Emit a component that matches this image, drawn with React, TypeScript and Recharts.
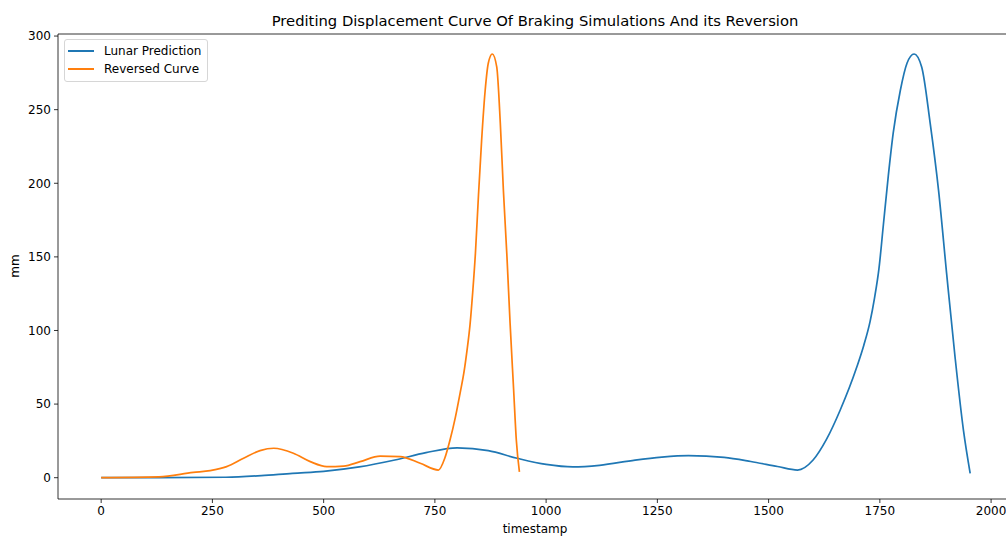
import React from 'react';
import { LineChart, Line, XAxis, YAxis, Legend, ReferenceLine } from 'recharts';

const lunarT = [0, 130, 280, 360, 430, 500, 580, 660, 730, 800, 870, 935, 1000, 1060, 1120, 1200, 1260, 1320, 1400, 1460, 1520, 1565, 1600, 1630, 1661, 1698, 1714, 1728, 1738, 1748, 1758, 1769, 1780, 1796, 1811, 1827, 1844, 1863, 1882, 1900, 1919, 1938, 1953];
const lunarV = [0, 0, 0.3, 1.4, 3, 4.3, 7.3, 12, 17, 20.3, 18.4, 13.2, 9, 7.3, 8.4, 12, 14, 15, 13.8, 11, 7.6, 5.2, 12, 26, 46, 75, 90, 106, 122, 142, 172, 205, 234, 263, 281.5, 287.8, 279, 241, 195, 139, 82, 32, 3];

const reversedT = [0, 130, 207, 245, 282, 320, 357, 388, 432, 470, 507, 545, 582, 627, 672, 717, 758, 772, 784, 796, 807, 815, 822, 829, 835, 841, 848, 855, 863, 870, 879, 889, 897, 904, 912, 919, 927, 933, 940];
const reversedV = [0, 0.5, 3.6, 4.8, 7.5, 13.2, 18.4, 20, 16.6, 10.9, 7.5, 7.9, 10.9, 14.7, 14.3, 9.8, 5.2, 13, 25.6, 41, 58, 71, 86, 104, 126, 152, 192, 229, 263, 281.5, 287.8, 279, 241, 195, 150, 105, 59.6, 25.6, 4];

const xTicks = [0, 250, 500, 750, 1000, 1250, 1500, 1750, 2000];
const yTicks = [0, 50, 100, 150, 200, 250, 300];

const seriesNames = ['Lunar Prediction', 'Reversed Curve'];
const seriesColors = ['#1f77b4', '#ff7f0e'];

const lunarData = lunarT.map((t, i) => ({ t, v: lunarV[i] }));
const reversedData = reversedT.map((t, i) => ({ t, v: reversedV[i] }));

const FONT = '"DejaVu Sans", sans-serif';
const xDomain = [-97, 2047];
const yDomain = [-14.47, 301.4];

const LegendBox = () => (
  <div
    style={{
      background: '#fff',
      border: '1px solid #d6d6d6',
      borderRadius: 3,
      padding: '2px 6px 2px 3px',
      fontFamily: FONT,
      fontSize: 12,
      color: '#000',
      whiteSpace: 'nowrap',
    }}
  >
    {seriesNames.map((name, i) => (
      <div key={name} style={{ display: 'flex', alignItems: 'center', height: 18.3 }}>
        <div style={{ width: 26, height: 2, background: seriesColors[i], marginRight: 10 }} />
        <span>{name}</span>
      </div>
    ))}
  </div>
);

export default function App() {
  return (
    <div
      style={{
        position: 'absolute',
        left: 0,
        top: 0,
        width: 1006,
        height: 538,
        overflow: 'hidden',
        background: '#fff',
        fontFamily: FONT,
      }}
    >
      <div style={{ position: 'absolute', left: 0, width: 1070, top: 12, textAlign: 'center', fontSize: 14.75, color: '#000' }}>
        Prediting Displacement Curve Of Braking Simulations And its Reversion
      </div>
      <div
        style={{
          position: 'absolute',
          left: 15,
          top: 266,
          fontSize: 12,
          color: '#000',
          transform: 'translate(-50%, -50%) rotate(-90deg)',
        }}
      >
        mm
      </div>
      <div style={{ position: 'absolute', left: 0, width: 1070, top: 522, textAlign: 'center', fontSize: 12, color: '#000' }}>
        timestamp
      </div>

      <LineChart width={1020} height={538} margin={{ top: 34, right: 8, bottom: 0, left: 0 }}>
        <XAxis
          dataKey="t"
          type="number"
          domain={xDomain}
          ticks={xTicks}
          allowDataOverflow
          height={39}
          tickSize={4}
          tickMargin={3}
          stroke="#000"
          strokeWidth={0.8}
          tick={{ fill: '#000', fontSize: 12, fontFamily: FONT }}
        />
        <YAxis
          type="number"
          domain={yDomain}
          ticks={yTicks}
          allowDataOverflow
          width={58}
          tickSize={4}
          tickMargin={3}
          stroke="#000"
          strokeWidth={0.8}
          tick={{ fill: '#000', fontSize: 12, fontFamily: FONT }}
        />
        <ReferenceLine y={yDomain[1]} stroke="#000" strokeWidth={0.8} />
        <Legend
          layout="horizontal"
          verticalAlign="middle"
          align="center"
          content={() => <LegendBox />}
          wrapperStyle={{ left: 64, top: 39, width: 'auto', height: 'auto' }}
        />
        <Line
          data={lunarData}
          dataKey="v"
          type="monotone"
          stroke={seriesColors[0]}
          strokeWidth={1.7}
          dot={false}
          activeDot={false}
          isAnimationActive={false}
        />
        <Line
          data={reversedData}
          dataKey="v"
          type="monotone"
          stroke={seriesColors[1]}
          strokeWidth={1.7}
          dot={false}
          activeDot={false}
          isAnimationActive={false}
        />
      </LineChart>
    </div>
  );
}
